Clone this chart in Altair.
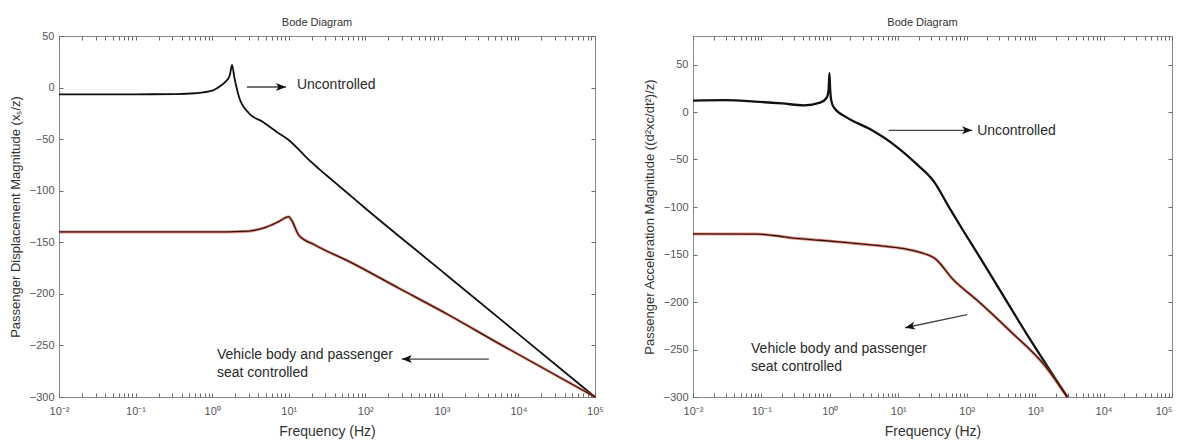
import json
import altair as alt
import pandas as pd

# ---------------- data ----------------
FREQ_TICK_LABELS = ["10⁻²", "10⁻¹", "10⁰", "10¹", "10²", "10³", "10⁴", "10⁵"]
Y_TICKS = [50, 0, -50, -100, -150, -200, -250, -300]

# Left panel: passenger displacement magnitude (dB) vs frequency (Hz)
L_UNC_F = [0.01, 0.1, 0.34, 0.6, 1.0, 1.3, 1.5, 1.7, 1.82, 1.95, 2.24, 3.0, 4.5,
           7.0, 10.0, 13.5, 16.6, 25.0, 36.0, 60.0, 100.0, 1000.0, 10000.0, 100000.0]
L_UNC_DB = [-6.5, -6.5, -6.3, -5.5, -3.0, 2.0, 5.7, 12.0, 21.9, 10.0, -8.9, -24.7, -33.0,
            -43.0, -50.8, -60.0, -67.0, -79.0, -89.0, -103.0, -117.0, -178.0, -239.0, -300.0]
L_CTL_F = [0.01, 1.0, 2.45, 3.5, 5.0, 7.4, 10.0, 11.0, 13.5, 22.0, 62.0, 275.0,
           1230.0, 5500.0, 100000.0]
L_CTL_DB = [-140.0, -140.0, -139.5, -138.5, -135.5, -130.0, -125.2, -129.0, -143.0,
            -152.6, -168.8, -194.6, -220.5, -248.0, -300.0]

# Right panel: passenger acceleration magnitude (dB) vs frequency (Hz)
R_UNC_F = [0.01, 0.03, 0.08, 0.2, 0.42, 0.72, 0.9, 0.96, 0.985, 1.01, 1.05, 1.15, 1.78,
           3.9, 8.5, 18.6, 33.0, 57.0, 89.0, 141.0, 759.0, 2950.0]
R_UNC_DB = [12.0, 12.5, 11.0, 9.0, 7.0, 9.8, 15.0, 24.0, 41.0, 24.0, 12.0, 4.5, -5.9,
            -18.2, -34.0, -54.9, -73.0, -102.0, -125.0, -148.0, -234.0, -300.0]
R_CTL_F = [0.01, 0.087, 0.15, 0.32, 0.72, 1.5, 4.9, 10.0, 18.6, 34.7, 64.6, 141.0,
           437.0, 1350.0, 2950.0]
R_CTL_DB = [-128.3, -128.5, -130.0, -133.0, -135.0, -137.0, -140.5, -143.0, -146.8,
            -154.5, -177.0, -198.0, -231.0, -266.0, -300.0]

# annotations (data coordinates)
L_TEXT = ["Uncontrolled", "Vehicle body and passenger", "seat controlled"]
L_TEXT_F = [12.8, 1.156, 1.156]
L_TEXT_DB = [2.5, -259.3, -276.5]
L_ARROW_F1 = [2.84, 4110.0]
L_ARROW_DB1 = [0.55, -263.2]
L_ARROW_F2 = [9.2, 300.0]
L_ARROW_DB2 = [0.55, -263.2]
L_ARROW_ANGLE = [90, 270]

R_TEXT = ["Uncontrolled", "Vehicle body and passenger", "seat controlled"]
R_TEXT_F = [142.0, 0.0705, 0.0705]
R_TEXT_DB = [-19.6, -249.1, -268.0]
R_ARROW_F1 = [7.26, 101.4]
R_ARROW_DB1 = [-19.3, -213.2]
R_ARROW_F2 = [120.0, 12.56]
R_ARROW_DB2 = [-19.3, -227.1]
R_ARROW_ANGLE = [90, 258]

FONT = "Liberation Sans"
X_TICKS = [m * 10.0 ** e for e in range(-2, 5) for m in range(1, 10)] + [1e5]
LABEL_EXPR = (
    "abs(log(datum.value)/LN10 - round(log(datum.value)/LN10)) < 0.001 ? "
    + json.dumps(FREQ_TICK_LABELS, ensure_ascii=False)
    + "[round(log(datum.value)/LN10) + 2] : ''"
)
ARROW_SHAPE = "M0,0L0.8,2L0,1.5L-0.8,2Z"


def panel(unc_f, unc_db, ctl_f, ctl_db, ydomain, ytitle,
          tx, tf, tdb, af1, adb1, af2, adb2, aang, width, height,
          title_offset, black_width, flush_last):
    xs = alt.Scale(type="log", domain=[0.01, 100000], nice=False)
    ys = alt.Scale(domain=ydomain, nice=False, zero=False)

    unc = pd.DataFrame({"f": unc_f, "db": unc_db})
    ctl = pd.DataFrame({"f": ctl_f, "db": ctl_db})
    txt = pd.DataFrame({"label": tx, "f": tf, "db": tdb})
    arr = pd.DataFrame({"f1": af1, "v1": adb1, "f2": af2, "v2": adb2, "ang": aang})

    common = dict(tickSize=4, offset=-4, domain=False, grid=False,
                  tickColor="#6a6a6a", tickWidth=1)
    label_align = ({"condition": {"test": "datum.value > 50000", "value": "right"},
                    "value": "center"} if flush_last else "center")
    x_bottom = alt.Axis(orient="bottom", values=X_TICKS, labelExpr=LABEL_EXPR,
                        labelOverlap=False, labelFlush=False, labelPadding=8,
                        labelAlign=label_align,
                        labelFont=FONT, labelFontSize=11, labelColor="#555",
                        title="Frequency (Hz)", titleFont=FONT, titleFontSize=14,
                        titleFontWeight="normal", titleColor="#333", titlePadding=8,
                        **common)
    y_left = alt.Axis(orient="left", values=Y_TICKS, labelPadding=5,
                      labelFont=FONT, labelFontSize=11, labelColor="#555",
                      title=ytitle, titleFont=FONT, titleFontSize=13,
                      titleFontWeight="normal", titleColor="#333", titlePadding=7,
                      **common)
    x_top = alt.Axis(orient="top", values=X_TICKS, labels=False, title=None, **common)
    y_right = alt.Axis(orient="right", values=Y_TICKS, labels=False, title=None, **common)

    black = alt.Chart(unc).mark_line(color="#111111", strokeWidth=black_width,
                                     interpolate="monotone").encode(
        x=alt.X("f:Q", scale=xs, axis=x_bottom),
        y=alt.Y("db:Q", scale=ys, axis=y_left),
        order="f:Q",
    )
    red = alt.Chart(ctl).mark_line(color="#e0452c", strokeWidth=3.0, opacity=0.6,
                                   interpolate="monotone").encode(
        x=alt.X("f:Q", scale=xs, axis=x_top),
        y=alt.Y("db:Q", scale=ys, axis=y_right),
        order="f:Q",
    )
    dark = alt.Chart(ctl).mark_line(color="#2b1510", strokeWidth=1.3,
                                    interpolate="monotone").encode(
        x=alt.X("f:Q", scale=xs, axis=None),
        y=alt.Y("db:Q", scale=ys, axis=None),
        order="f:Q",
    )
    text = alt.Chart(txt).mark_text(align="left", baseline="middle", font=FONT,
                                    fontSize=14, color="#2a2a2a").encode(
        x=alt.X("f:Q", scale=xs, axis=None),
        y=alt.Y("db:Q", scale=ys, axis=None),
        text="label:N",
    )
    shafts = alt.Chart(arr).mark_rule(color="#444444", strokeWidth=1.3).encode(
        x=alt.X("f1:Q", scale=xs, axis=None),
        y=alt.Y("v1:Q", scale=ys, axis=None),
        x2="f2:Q",
        y2="v2:Q",
    )
    heads = alt.Chart(arr).mark_point(shape=ARROW_SHAPE, filled=True, size=100,
                                      color="#111111", opacity=1).encode(
        x=alt.X("f2:Q", scale=xs, axis=None),
        y=alt.Y("v2:Q", scale=ys, axis=None),
        angle=alt.Angle("ang:Q", scale=None),
    )
    return alt.layer(black, red, dark, text, shafts, heads).resolve_axis(
        x="independent", y="independent"
    ).properties(
        width=width, height=height,
        title=alt.TitleParams("Bode Diagram", font=FONT, fontSize=11,
                              fontWeight="normal", color="#333",
                              offset=title_offset, dx=-10),
    )


left = panel(L_UNC_F, L_UNC_DB, L_CTL_F, L_CTL_DB, [-300, 50],
             "Passenger Displacement Magnitude (xₛ/z)",
             L_TEXT, L_TEXT_F, L_TEXT_DB, L_ARROW_F1, L_ARROW_DB1,
             L_ARROW_F2, L_ARROW_DB2, L_ARROW_ANGLE, 536, 361,
             2.5, 1.8, False)
right = panel(R_UNC_F, R_UNC_DB, R_CTL_F, R_CTL_DB, [-300, 80],
              "Passenger Acceleration Magnitude ((d²xc/dt²)/z)",
              R_TEXT, R_TEXT_F, R_TEXT_DB, R_ARROW_F1, R_ARROW_DB1,
              R_ARROW_F2, R_ARROW_DB2, R_ARROW_ANGLE, 479, 361,
              8, 2.3, True)

chart = alt.hconcat(left, right, spacing=38).properties(
    padding={"left": 0, "top": 8, "right": 0, "bottom": 0},
    background="white",
).configure_view(stroke="#8a8a8a", strokeWidth=1)

chart.save("out.html", embed_options={"renderer": "svg", "actions": False})
